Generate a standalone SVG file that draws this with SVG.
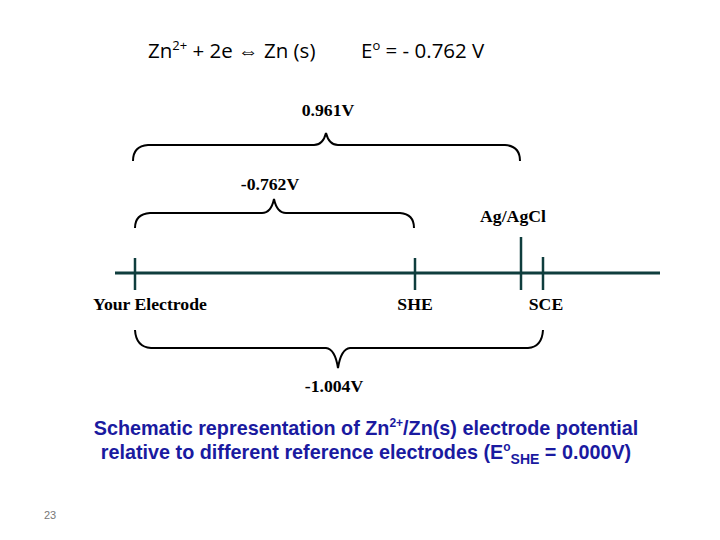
<svg xmlns="http://www.w3.org/2000/svg" width="720" height="540" viewBox="0 0 720 540">
<style>
.hdr{font-family:"Open Sans","Liberation Sans",sans-serif;font-size:20.5px;fill:#000}
.lbl{font-family:"Liberation Serif","Times New Roman",serif;font-size:17.7px;font-weight:bold;fill:#000}
.cap{font-family:"Liberation Sans",Arial,sans-serif;font-size:19.8px;font-weight:bold;fill:#1a1aa0}
.brace{fill:none;stroke:#000;stroke-width:2}
.axis{stroke:#0f3d3d;stroke-width:3}
.tick{stroke:#0f3d3d;stroke-width:2.5}
</style>
<rect width="720" height="540" fill="#fff"/>
<g id="header">
<text class="hdr" x="148" y="58">Zn<tspan font-size="13" dy="-8">2+</tspan><tspan dy="8"> + 2e ⇔ Zn (s)</tspan></text>
<text class="hdr" x="361" y="58">E<tspan font-size="13" dy="-8">o</tspan><tspan dy="8"> = - 0.762 V</tspan></text>
</g>
<g id="connectors">
<line class="axis" x1="115" y1="273" x2="660" y2="273"/>
<path class="brace" d="M133,161 Q133,146 148,145 L314,145 Q323,145 326,133 Q329,145 338,145 L505,145 Q520,146 520,161"/>
<path class="brace" d="M135,228 Q135,214 150,213 L262,213 Q271,213 274,199 Q277,213 286,213 L400,213 Q414,214 414,228"/>
<path class="brace" d="M135,330 Q136,347 151,348 L326,348 Q335,349 338,368 Q341,349 350,348 L528,348 Q542,347 543,330"/>
</g>
<g id="your-electrode">
<line class="tick" x1="135" y1="258" x2="135" y2="290"/>
<text class="lbl" x="150" y="310" text-anchor="middle">Your Electrode</text>
</g>
<g id="she">
<line class="tick" x1="415" y1="258" x2="415" y2="290"/>
<text class="lbl" x="415" y="310" text-anchor="middle">SHE</text>
</g>
<g id="agagcl">
<line class="tick" x1="521" y1="237" x2="521" y2="290" stroke-width="3"/>
<text class="lbl" x="513" y="222" text-anchor="middle">Ag/AgCl</text>
</g>
<g id="sce">
<line class="tick" x1="543" y1="257" x2="543" y2="290"/>
<text class="lbl" x="546" y="310" text-anchor="middle">SCE</text>
</g>
<g id="labels">
<text class="lbl" x="328" y="116" text-anchor="middle">0.961V</text>
<text class="lbl" x="270" y="190" text-anchor="middle">-0.762V</text>
<text class="lbl" x="334" y="392" text-anchor="middle">-1.004V</text>
</g>
<g id="caption">
<text class="cap" x="366" y="435" text-anchor="middle">Schematic representation of Zn<tspan font-size="12" dy="-8">2+</tspan><tspan dy="8">/Zn(s) electrode potential</tspan></text>
<text class="cap" x="366" y="459" text-anchor="middle">relative to different reference electrodes (E<tspan font-size="12" dy="-8">o</tspan><tspan font-size="14" dy="13">SHE</tspan><tspan dy="-5"> = 0.000V)</tspan></text>
</g>
<text x="50" y="519" font-family="Liberation Sans,sans-serif" font-size="11" fill="#777" text-anchor="middle">23</text>
</svg>
